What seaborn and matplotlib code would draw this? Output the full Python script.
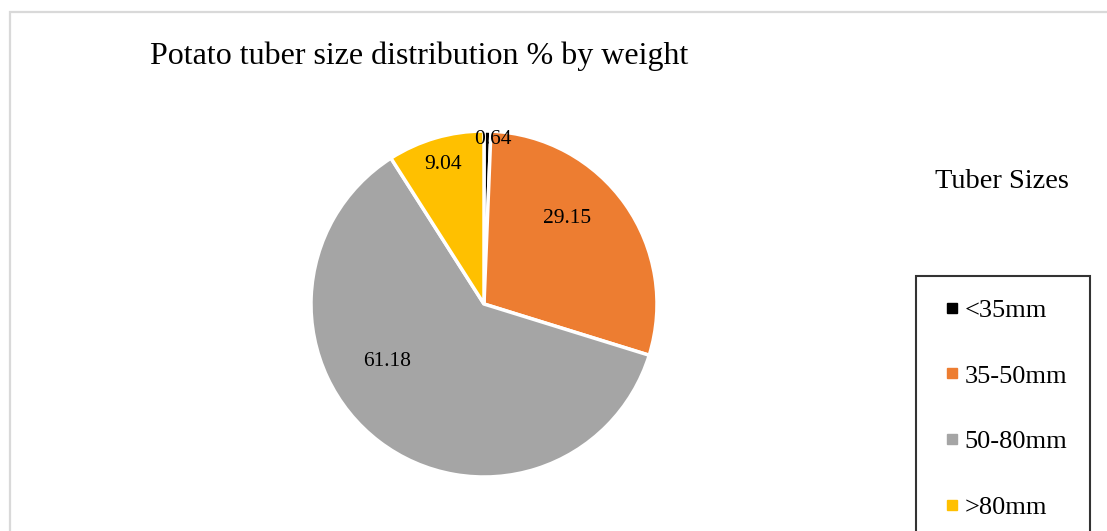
import matplotlib
matplotlib.use("Agg")
import matplotlib.pyplot as plt
import seaborn as sns
import numpy as np
from matplotlib.lines import Line2D
from matplotlib.patches import Rectangle

sns.set_theme(style="white")
plt.rcParams["font.family"] = ["Liberation Serif", "DejaVu Serif"]
plt.rcParams["text.color"] = "black"

# Tuber size classes and their share of total weight (%)
sizes = ["<35mm", "35-50mm", "50-80mm", ">80mm"]
shares = [0.64, 29.15, 61.18, 9.04]
colors = ["#000000", "#ED7D31", "#A5A5A5", "#FFC000"]

fig = plt.figure(figsize=(11.07, 5.31), dpi=100)
fig.patch.set_facecolor("white")

# light grey chart-area border (open at right and bottom)
fig.add_artist(Rectangle((10 / 1107, -0.1), 1.2, (531 - 12) / 531 + 0.1,
                         transform=fig.transFigure, fill=False,
                         edgecolor="#D9D9D9", linewidth=1.6))

ax = fig.add_axes([(484 - 173) / 1107, (531 - 304 - 173) / 531,
                   346 / 1107, 346 / 531])
wedges, _ = ax.pie(shares, colors=colors, startangle=90, counterclock=False,
                   wedgeprops=dict(edgecolor="white", linewidth=2.5))
ax.set_xlim(-1, 1)
ax.set_ylim(-1, 1)
ax.set_aspect("equal")

# value labels: (radius fraction, angle in degrees) for each slice
label_pos = [(0.95, 87.0), (0.69, 46.0), (0.65, 210.7), (0.84, 106.4)]
for val, (r, a) in zip(shares, label_pos):
    t = np.deg2rad(a)
    ax.text(r * np.cos(t), r * np.sin(t), f"{val:.2f}", ha="center",
            va="center", fontsize=15.5, color="black")

fig.text(150 / 1107, 1 - 56 / 531, "Potato tuber size distribution % by weight",
         ha="left", va="center", fontsize=23, color="black")
fig.text(1002 / 1107, 1 - 182 / 531, "Tuber Sizes", ha="center",
         va="center", fontsize=20.5, color="black")

handles = [Line2D([0], [0], marker="s", linestyle="none", markersize=7,
                  markerfacecolor=c, markeredgecolor=c) for c in colors]
leg = fig.legend(handles, sizes, loc="upper left",
                 bbox_to_anchor=(916 / 1107, 1 - 276 / 531),
                 frameon=True, fancybox=False, fontsize=19,
                 labelspacing=1.6, handlelength=1.0, handletextpad=0.0,
                 borderpad=0.85, borderaxespad=0)
for txt in leg.get_texts():
    txt.set_color("black")
frame = leg.get_frame()
frame.set_edgecolor("black")
frame.set_linewidth(1.5)
frame.set_facecolor("white")

fig.savefig("out.png", dpi=100)
